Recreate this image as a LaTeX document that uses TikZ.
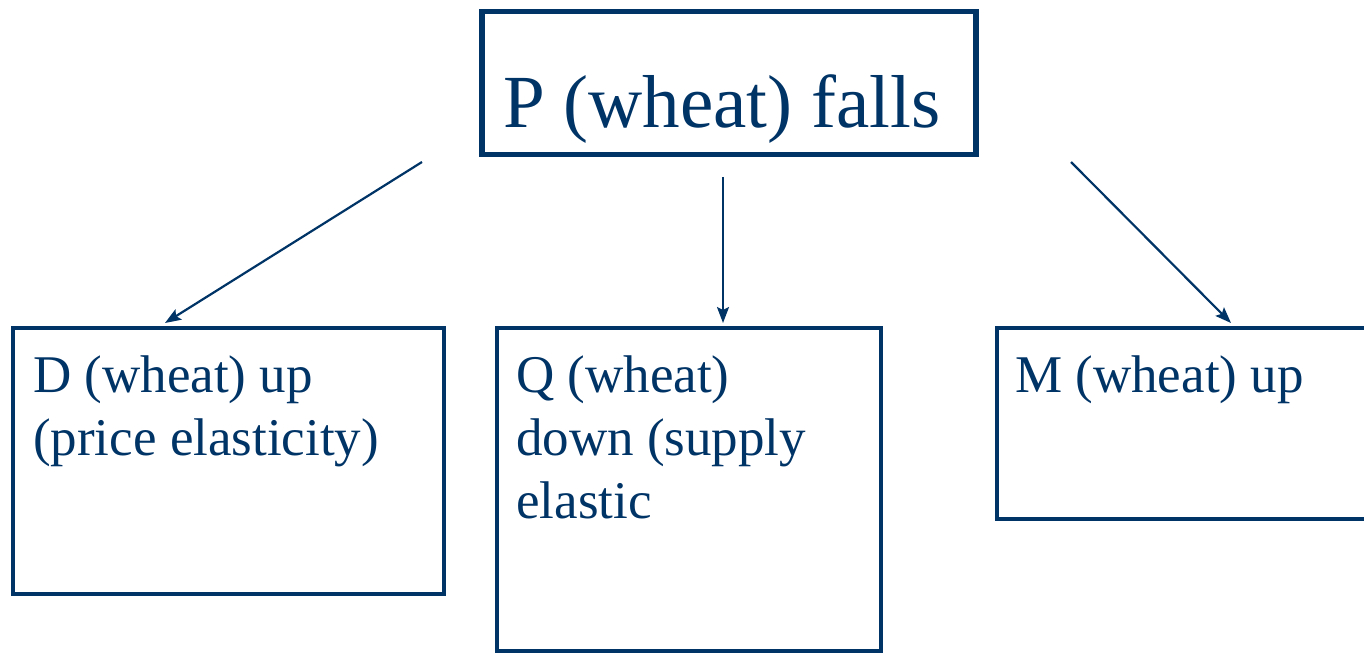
\documentclass[tikz,border=0pt]{standalone}
\usepackage{fontspec}
\setmainfont{Liberation Serif}
\usetikzlibrary{arrows.meta}
\definecolor{navy}{RGB}{0,51,102}
\tikzset{
  box/.style={draw=navy, line width=4.5pt, inner sep=0pt, outer sep=0pt, anchor=north west},
  topbox/.style={box, line width=5.5pt},
  bigtext/.style={text=navy, inner sep=0pt, anchor=base west, font=\fontsize{75}{90}\selectfont},
  boxtext/.style={text=navy, inner sep=0pt, anchor=base west, align=left, font=\fontsize{53}{63}\selectfont},
  link/.style={draw=navy, line width=2.2pt, -{Stealth[length=16pt,width=12pt,inset=3pt]}}
}
\begin{document}
\begin{tikzpicture}[x=1pt,y=-1pt]
\useasboundingbox (0,0) rectangle (1364,655);
% cause
\node[topbox, minimum width=494, minimum height=143] (top) at (482,11.5) {};
\node[bigtext] (toptext) at (503,128) {P (wheat) falls};
% effects
\node[box, minimum width=431, minimum height=266] (dbox) at (13,328) {};
\node[box, minimum width=384, minimum height=323] (qbox) at (497,328) {};
\node[box, minimum width=400, minimum height=191] (mbox) at (997,328) {};
% multi-line labels are placed by the baseline of their last line
\node[boxtext] (dtext) at (33,455) {D (wheat) up\\(price elasticity)};
\node[boxtext] (qtext) at (516,518) {Q (wheat)\\down (supply\\elastic};
\node[boxtext] (mtext) at (1015,392) {M (wheat) up};
% arrows
\coordinate (s1) at (422,162);
\coordinate (e1) at (165,323);
\coordinate (s2) at (723,177);
\coordinate (e2) at (723,323);
\coordinate (s3) at (1071,162);
\coordinate (e3) at (1231,323);
\draw[link] (s1) -- (e1);
\draw[link] (s2) -- (e2);
\draw[link] (s3) -- (e3);
\end{tikzpicture}
\end{document}
